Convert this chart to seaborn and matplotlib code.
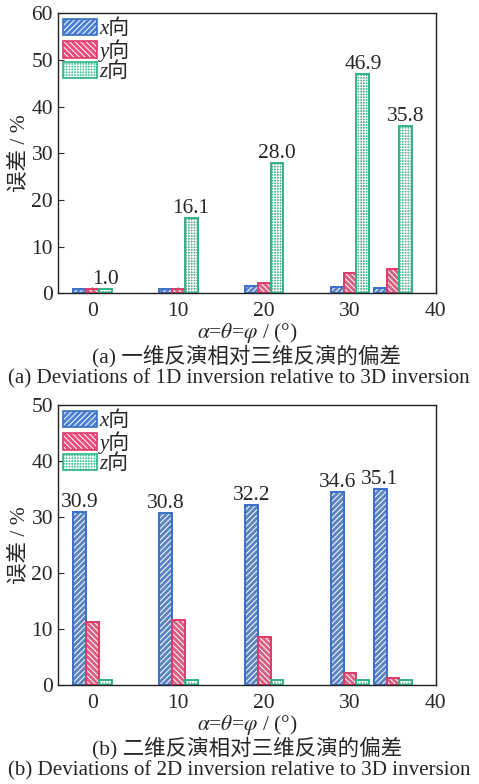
import matplotlib
matplotlib.use("Agg")
import matplotlib.pyplot as plt
from matplotlib.patches import Patch
import numpy as np
import pandas as pd
import seaborn as sns

# ---- data -------------------------------------------------------------
angles = [0, 10, 20, 30, 35]
directions = ["x向", "y向", "z向"]

# (a) 1D inversion vs 3D inversion
dev1d_x = [1.0, 1.0, 1.6, 1.3, 1.2]
dev1d_y = [1.0, 1.0, 2.2, 4.3, 5.1]
dev1d_z = [1.0, 16.1, 28.0, 46.9, 35.8]

# (b) 2D inversion vs 3D inversion
dev2d_x = [30.9, 30.8, 32.2, 34.6, 35.1]
dev2d_y = [11.3, 11.6, 8.6, 2.1, 1.3]
dev2d_z = [1.0, 1.0, 1.0, 1.0, 1.0]

xlabel = r"$\alpha$=$\theta$=$\varphi$ / (°)"
ylabel = "误差 / %"
caption_a_cn = "(a) 一维反演相对三维反演的偏差"
caption_a_en = "(a) Deviations of 1D inversion relative to 3D inversion"
caption_b_cn = "(b) 二维反演相对三维反演的偏差"
caption_b_en = "(b) Deviations of 2D inversion relative to 3D inversion"

# ---- style ------------------------------------------------------------
sns.set_style("ticks")
FAMILY = ["Liberation Serif", "Noto Sans CJK SC"]
plt.rcParams["font.family"] = FAMILY
plt.rcParams["mathtext.fontset"] = "stix"
plt.rcParams["hatch.linewidth"] = 0.7
plt.rcParams["axes.linewidth"] = 1.0

fills = ["#4b80d2", "#ea4d7a", "#45c196"]
edges = ["#3a70c8", "#de3a6a", "#33b286"]
hatches = ["//////", "\\\\\\\\\\\\", "++++++"]
FS = 15.5


def long_frame(xs, ys, zs):
    return pd.DataFrame({
        "angle": angles * 3,
        "direction": [d for d in directions for _ in angles],
        "value": list(xs) + list(ys) + list(zs),
    })


def draw_panel(ax, df, ymax, label_idx):
    sns.barplot(data=df, x="angle", y="value", hue="direction",
                hue_order=directions, palette=fills, native_scale=True,
                width=0.9, edgecolor="white", linewidth=0, legend=False,
                errorbar=None, ax=ax)
    for cont, h in zip(ax.containers, hatches):
        for p in cont:
            p.set_hatch(h)
    filled = list(ax.containers)
    # coloured outlines drawn over the hatched fills
    sns.barplot(data=df, x="angle", y="value", hue="direction",
                hue_order=directions, palette=edges, native_scale=True,
                width=0.9, fill=False, linewidth=1.4, legend=False,
                errorbar=None, ax=ax)
    ax.bar_label(filled[label_idx], fmt="%.1f", padding=0, fontsize=FS)

    ax.set_xlim(-4, 40)
    ax.set_ylim(0, ymax)
    ax.set_xticks([0, 10, 20, 30, 40])
    ax.set_yticks(np.arange(0, ymax + 1, 10))
    ax.tick_params(direction="in", length=4, labelsize=FS, width=0.8)
    ax.tick_params(axis="x", pad=6)
    for s in ax.spines.values():
        s.set_visible(True)
        s.set_color("#222222")
    ax.set_xlabel(xlabel, fontsize=FS, labelpad=0)
    ax.set_ylabel(ylabel, fontsize=FS, labelpad=2)

    handles = [(Patch(facecolor=f, edgecolor="white", hatch=h, linewidth=0),
                Patch(facecolor="none", edgecolor=e, linewidth=1.2))
               for f, e, h in zip(fills, edges, hatches)]
    ax.legend(handles, directions, loc="upper left", frameon=False,
              prop=dict(family=FAMILY, style="italic", size=15),
              handlelength=1.6, handleheight=0.85,
              labelspacing=0.0, handletextpad=0.15, borderaxespad=0.15,
              borderpad=0.1)


fig = plt.figure(figsize=(4.79, 7.84), dpi=100)
ax1 = fig.add_axes([0.121, 0.626, 0.789, 0.357])
ax2 = fig.add_axes([0.121, 0.126, 0.789, 0.357])

draw_panel(ax1, long_frame(dev1d_x, dev1d_y, dev1d_z), 60, 2)
draw_panel(ax2, long_frame(dev2d_x, dev2d_y, dev2d_z), 50, 0)

fig.text(0.515, 1 - 356 / 784, caption_a_cn, ha="center", va="center", fontsize=FS)
fig.text(8 / 479, 1 - 379 / 784, caption_a_en, ha="left", va="center", fontsize=15.1)
fig.text(0.515, 1 - 748 / 784, caption_b_cn, ha="center", va="center", fontsize=FS)
fig.text(8 / 479, 1 - 771 / 784, caption_b_en, ha="left", va="center", fontsize=15.1)

fig.savefig("out.png", dpi=100)
